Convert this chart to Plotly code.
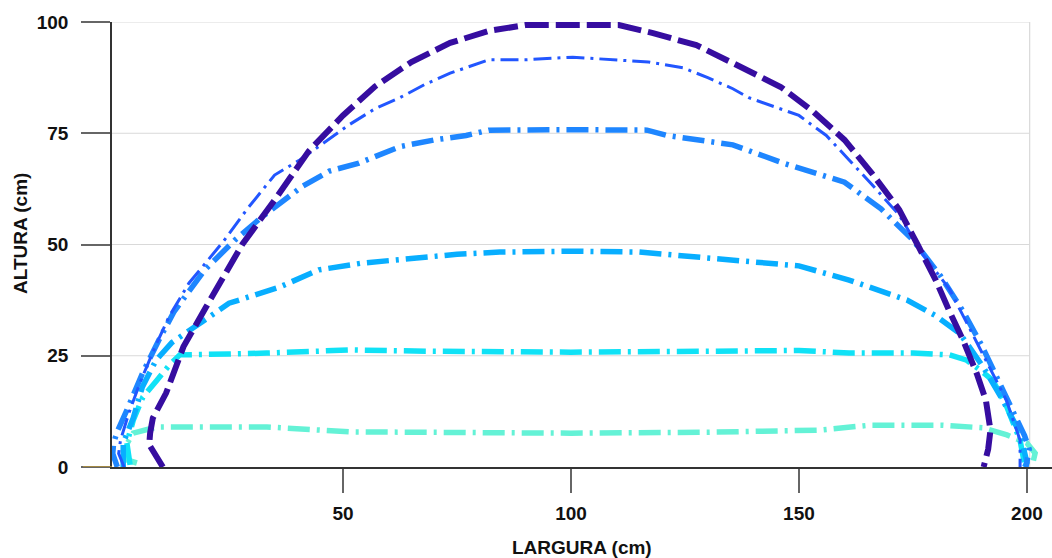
import plotly.graph_objects as go

# ---- data ----
x_dark = [10.5, 7.5, 7.7, 8.3, 11.2, 15.0, 20.0, 27.9, 35.0, 42.5, 50.0, 57.0, 65.0, 73.5, 82.0, 90.0, 100.0,
          110.5, 118.0, 127.5, 139.0, 146.0, 153.0, 160.0, 166.0, 172.0, 176.0, 180.0, 183.0, 186.0, 189.0,
          191.0, 192.0, 191.5, 190.5]
y_dark = [0, 5, 7.6, 11, 16.6, 27, 36, 50, 60, 71, 79, 85.5, 91, 95.3, 98, 99.3, 99.3,
          99.3, 97.5, 94.8, 89, 85.4, 80, 73.5, 66, 57.8, 50, 42, 35, 28.5, 21,
          15, 8.3, 4, 0]

x_blue = [2.0, 0.8, 1.2, 3.0, 5.5, 8.8, 11.8, 16.2, 20.0, 24.0, 29.0, 35.0, 40.5, 46.0, 51.5, 57.0, 62.5, 68.0,
          73.5, 82.0, 90.0, 100.4, 110.0, 117.0, 124.6, 130.0, 135.5, 139.0, 150.0, 156.0, 161.0, 166.0,
          172.0, 177.0, 183.0, 187.0, 191.0, 195.5, 198.5, 198.5]
y_blue = [0, 3, 6, 12, 19, 27, 33.7, 41.3, 46, 51, 58, 65.6, 69, 73, 77, 80.5, 83, 86,
          88.5, 91.5, 91.5, 92.1, 91.5, 91, 89.7, 87.5, 85, 83, 79, 74.5, 69, 63.5,
          56.6, 48, 40, 32, 24, 15, 6, 0]

x_mid = [0.5, -0.5, -0.3, 0.5, 2.6, 6.0, 9.6, 13.0, 19.7, 26.3, 32.0, 41.0, 47.0, 53.5, 62.5, 70.0, 77.0, 82.0,
         100.0, 116.7, 121.0, 128.0, 135.5, 146.5, 160.0, 168.0, 175.0, 181.0, 186.0, 190.0, 193.5, 197.0,
         199.5, 200.5, 199.8]
y_mid = [0, 3, 5.4, 8, 12.8, 21, 28.5, 35, 44.3, 51, 56, 63, 66.5, 68.3, 72, 73.5, 74.5, 75.7,
         75.8, 75.7, 74.5, 73.5, 72.4, 68.3, 64, 58, 51, 43, 35, 27.5, 20, 12.5,
         7, 4, 0]

x_sky = [1.8, 1.8, 4.0, 6.0, 9.0, 12.5, 17.5, 25.0, 36.0, 44.7, 54.0, 65.0, 75.0, 84.4, 100.4, 115.0, 128.0,
         143.0, 150.0, 161.0, 168.0, 173.7, 180.0, 185.3, 190.4, 194.7, 198.5, 200.0, 199.5]
y_sky = [0, 5.4, 11, 18, 24, 28, 31.5, 36.8, 40.4, 44.3, 45.8, 46.8, 47.8, 48.3, 48.5, 48.3, 47.2,
         46, 45.2, 42, 39.5, 37.5, 34, 30, 22.5, 15, 7.6, 1, 0]

x_cyan = [3.3, 2.6, 4.0, 6.1, 9.2, 12.0, 14.2, 18.6, 25.0, 33.3, 51.5, 70.0, 100.0, 130.0, 150.0, 161.0,
          175.0, 183.0, 186.8, 189.7, 192.5, 195.6, 198.5, 199.6]
y_cyan = [0.5, 5.4, 10.5, 15.7, 19.5, 23, 25.2, 25.2, 25.4, 25.6, 26.3, 26, 25.8, 26, 26.2, 25.6,
          25.6, 25.2, 24, 21.8, 19.5, 13.5, 6, 0]

x_aqua = [4.8, 2.6, 2.2, 4.0, 9.2, 15.0, 33.3, 51.5, 70.0, 100.0, 130.0, 154.6, 165.6, 181.6, 190.4, 195.6,
          200.0, 201.8, 201.3]
y_aqua = [0.9, 1.6, 4.5, 7.6, 9, 9, 9, 7.9, 7.8, 7.6, 7.8, 8.3, 9.4, 9.4, 8.8, 7.2,
          5.4, 3.1, 0.9]

x_ticks = [50, 100, 150, 200]
y_ticks = [0, 25, 50, 75, 100]
x_title = "LARGURA (cm)"
y_title = "ALTURA (cm)"

# ---- styles ----
series = [
    (x_aqua, y_aqua, "#64F2D6", 5.5, "22px,7px,3px,7px"),
    (x_cyan, y_cyan, "#10E2F6", 5.5, "22px,7px,3px,7px"),
    (x_sky, y_sky, "#08AEFF", 5.5, "22px,7px,3px,7px"),
    (x_mid, y_mid, "#1E86FF", 5.5, "22px,7px,3px,7px"),
    (x_blue, y_blue, "#2256FF", 3, "18px,6px,3px,6px"),
    (x_dark, y_dark, "#360DA0", 6, "24px,7px"),
]

fig = go.Figure()
for xs, ys, col, w, dash in series:
    fig.add_trace(go.Scatter(x=xs, y=ys, mode="lines", showlegend=False,
                             line=dict(color=col, width=w, dash=dash)))

XMIN, XMAX = -0.66, 205.5
XEDGE = 200.6
font = dict(family="Liberation Sans, Arial, sans-serif", size=19, color="#111", weight="bold")

shapes = []
for yv in y_ticks[1:]:
    shapes.append(dict(type="line", xref="x", yref="y", x0=XMIN, x1=XEDGE, y0=yv, y1=yv,
                       line=dict(color="#D9D9D9", width=1.2), layer="below"))
shapes.append(dict(type="line", xref="x", yref="y", x0=XEDGE, x1=XEDGE, y0=0, y1=100,
                   line=dict(color="#D9D9D9", width=1.2), layer="below"))
shapes.append(dict(type="line", xref="paper", yref="y", x0=-29 / 940, x1=0, y0=0, y1=0,
                   line=dict(color="#B8963A", width=1.5)))

fig.update_layout(
    width=1052, height=558,
    margin=dict(l=112, r=0, t=22, b=91),
    paper_bgcolor="white", plot_bgcolor="white",
    font=font,
    shapes=shapes,
    xaxis=dict(range=[XMIN, XMAX], tickvals=x_ticks, ticks="outside", ticklen=24, tickwidth=1.5,
               tickcolor="#666", showline=True, linecolor="#333", linewidth=1.5, showgrid=False,
               zeroline=False, tickfont=font, ticklabelstandoff=4),
    yaxis=dict(range=[0, 100], tickvals=y_ticks, ticks="outside", ticklen=29, tickwidth=1.5,
               tickcolor="#666", showline=True, linecolor="#333", linewidth=1.5, showgrid=False,
               zeroline=False, tickfont=font, ticklabelstandoff=9),
    annotations=[
        dict(text=x_title, xref="paper", yref="paper", x=(582 - 112) / 940, y=-(547 - 467) / 445,
             xanchor="center", yanchor="middle", showarrow=False, font=font),
        dict(text=y_title, xref="paper", yref="paper", x=-(112 - 20) / 940, y=(467 - 234) / 445,
             xanchor="center", yanchor="middle", showarrow=False, textangle=-90, font=font),
    ],
)

fig.write_html("out.html")
